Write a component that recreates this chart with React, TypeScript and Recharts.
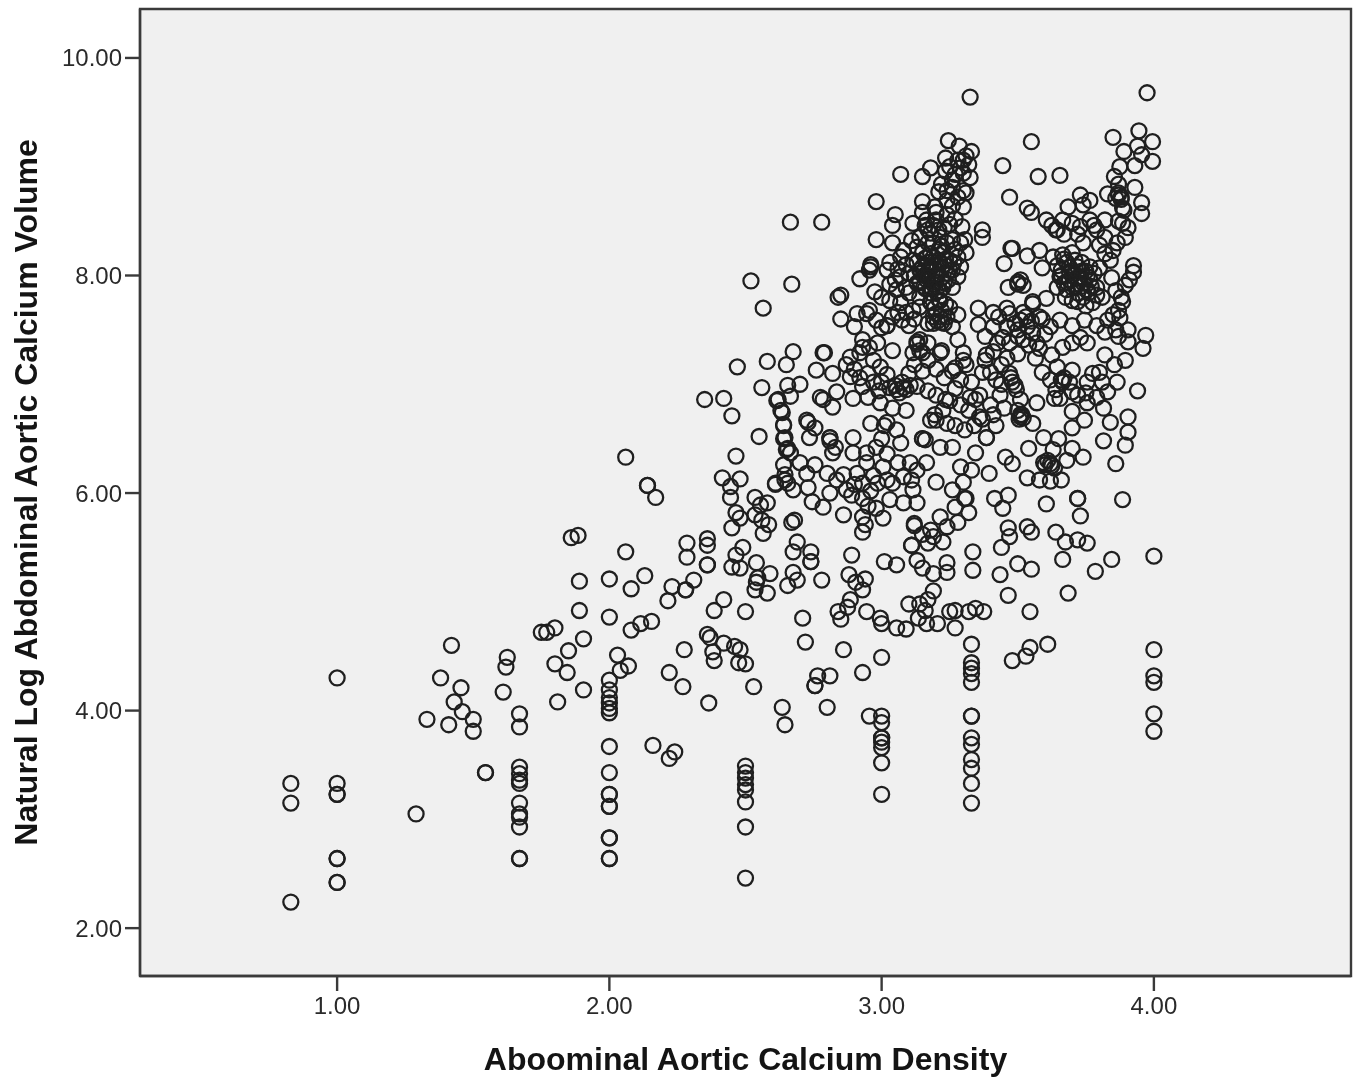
import React from "react";
import { Label, ReferenceArea, Scatter, ScatterChart, XAxis, YAxis } from "recharts";

type Pair = [number, number];

const xTicks = [1, 2, 3, 4];
const yTicks = [2, 4, 6, 8, 10];

// columns of patients sharing one density score
const densityColumns: [number, number[]][] = [
  [0.83, [3.33, 3.15, 2.24]],
  [1, [4.3, 3.33, 3.23, 3.23, 2.64, 2.64, 2.42, 2.42]],
  [1.67, [3.97, 3.85, 3.48, 3.42, 3.36, 3.33, 3.15, 3.05, 3.02, 2.93, 2.64, 2.64]],
  [2, [5.21, 4.86, 4.28, 4.19, 4.12, 4.07, 4.02, 3.98, 3.67, 3.43, 3.23, 3.23, 3.12, 3.12, 2.83, 2.83, 2.64, 2.64]],
  [2.5, [3.49, 3.43, 3.38, 3.32, 3.27, 3.16, 2.93, 2.46]],
  [3, [4.49, 3.95, 3.89, 3.75, 3.75, 3.71, 3.66, 3.52, 3.23]],
  [3.33, [4.61, 4.44, 4.39, 4.34, 4.26, 3.95, 3.95, 3.75, 3.69, 3.55, 3.47, 3.33, 3.15]],
  [4, [5.42, 4.56, 4.32, 4.26, 3.97, 3.81]],
];

const lowBand: Pair[] = [
  [1.29, 3.05], [1.33, 3.92], [1.41, 3.87], [1.38, 4.3], [1.42, 4.6], [1.455, 4.21], [1.43, 4.08], [1.46, 3.99],
  [1.5, 3.92], [1.5, 3.81], [1.545, 3.43], [1.545, 3.43], [1.61, 4.17], [1.62, 4.4], [1.625, 4.49], [1.75, 4.72],
  [1.77, 4.72], [1.8, 4.76], [1.8, 4.43], [1.81, 4.08], [1.845, 4.35], [1.85, 4.55], [1.86, 5.59], [1.885, 5.61],
  [1.89, 5.19], [1.89, 4.92], [1.905, 4.19], [1.905, 4.66], [2.03, 4.51], [2.04, 4.37], [2.07, 4.41], [2.06, 5.46],
  [2.08, 5.12], [2.08, 4.74], [2.06, 6.33], [2.115, 4.8], [2.13, 5.24], [2.155, 4.82], [2.14, 6.07], [2.14, 6.07],
  [2.17, 5.96], [2.16, 3.68], [2.22, 3.56], [2.24, 3.62], [2.215, 5.01], [2.23, 5.14], [2.22, 4.35], [2.27, 4.22],
  [2.275, 4.56], [2.28, 5.11], [2.28, 5.11], [2.31, 5.2], [2.285, 5.54], [2.285, 5.41], [2.35, 6.86], [2.36, 5.58],
  [2.36, 5.52], [2.36, 5.34], [2.36, 5.34], [2.36, 4.7], [2.37, 4.67], [2.365, 4.07], [2.38, 4.54], [2.385, 4.46],
  [2.385, 4.92], [2.42, 4.62], [2.42, 5.02], [2.46, 4.59], [2.48, 4.56], [2.475, 4.44], [2.5, 4.43], [2.53, 4.22],
  [2.5, 4.91],
];

const risingBand: Pair[] = [
  [2.47, 7.16], [2.415, 6.14], [2.42, 6.87], [2.45, 6.71], [2.465, 6.34], [2.48, 6.13], [2.445, 6.06], [2.445, 5.96],
  [2.465, 5.82], [2.48, 5.77], [2.45, 5.68], [2.465, 5.43], [2.45, 5.32], [2.49, 5.5], [2.48, 5.31], [2.52, 7.95],
  [2.565, 7.7], [2.58, 7.21], [2.56, 6.97], [2.55, 6.52], [2.535, 5.96], [2.555, 5.89], [2.58, 5.91], [2.535, 5.8],
  [2.56, 5.75], [2.585, 5.71], [2.565, 5.63], [2.54, 5.36], [2.545, 5.22], [2.59, 5.26], [2.535, 5.11], [2.58, 5.08],
  [2.54, 5.18], [2.635, 4.03], [2.645, 3.87], [2.655, 5.15], [2.69, 5.2], [2.675, 5.27], [2.67, 5.73], [2.68, 5.75],
  [2.69, 5.55], [2.675, 5.46], [2.74, 5.46], [2.74, 5.37], [2.74, 5.37], [2.71, 4.85], [2.72, 4.63], [2.755, 4.23],
  [2.755, 4.23], [2.765, 4.32], [2.81, 4.32], [2.8, 4.03], [2.78, 5.2], [2.665, 8.49], [2.78, 8.49], [2.67, 7.92],
  [2.675, 7.3], [2.65, 7.18], [2.7, 7.0], [2.655, 6.99], [2.62, 6.86], [2.63, 6.76], [2.64, 6.63], [2.645, 6.51],
  [2.65, 6.4], [2.64, 6.26], [2.61, 6.08], [2.645, 6.12], [2.675, 6.03], [2.615, 6.85], [2.665, 6.89], [2.635, 6.74],
  [2.64, 6.62], [2.64, 6.5], [2.655, 6.41], [2.665, 6.37], [2.725, 6.67], [2.755, 6.6], [2.735, 6.51], [2.73, 6.65],
  [2.81, 6.51], [2.81, 6.51], [2.81, 6.48], [2.83, 6.42], [2.82, 6.37], [2.895, 6.51], [2.895, 6.37], [2.945, 6.37],
  [2.76, 7.13], [2.785, 7.29], [2.82, 7.1], [2.775, 6.88], [2.785, 6.86], [2.82, 6.79], [2.835, 6.93], [2.895, 6.87],
  [2.95, 6.88], [2.885, 7.07], [2.7, 6.28], [2.755, 6.26], [2.645, 6.17], [2.61, 6.09], [2.655, 6.09], [2.725, 6.18],
  [2.73, 6.05], [2.8, 6.18], [2.835, 6.12], [2.86, 6.17], [2.91, 6.18], [2.945, 6.28], [3.005, 6.24], [3.02, 6.12],
  [2.985, 6.09], [3.04, 6.09], [2.93, 6.09], [2.89, 5.98], [2.81, 6.0], [2.785, 5.87], [2.745, 5.92], [2.86, 5.8],
  [2.93, 5.95], [2.93, 5.78], [2.93, 5.64], [2.94, 5.71], [3.005, 5.77], [3.03, 5.94], [3.08, 5.91], [3.13, 5.91],
  [3.115, 6.03], [2.96, 6.02], [2.98, 5.86], [2.95, 5.88], [2.97, 6.16], [2.87, 6.03], [2.9, 6.08],
];

const lowerCentre: Pair[] = [
  [2.86, 4.56], [2.93, 4.35], [2.84, 4.91], [2.85, 4.84], [2.89, 5.43], [2.88, 5.25], [2.905, 5.18], [2.94, 5.21],
  [2.93, 5.11], [2.885, 5.02], [2.875, 4.95], [2.945, 4.91], [2.995, 4.85], [3.0, 4.8], [3.01, 5.37], [3.055, 5.34],
  [3.055, 4.76], [3.09, 4.75], [3.1, 4.98], [3.14, 4.98], [3.17, 5.02], [3.135, 4.85], [3.16, 4.92], [3.165, 4.8],
  [3.205, 4.8], [3.19, 5.1], [3.15, 5.31], [3.19, 5.26], [3.24, 5.36], [3.24, 5.27], [3.25, 4.91], [3.27, 4.92],
  [3.27, 4.76], [3.32, 4.91], [3.345, 4.94], [3.375, 4.91], [3.13, 5.38], [3.11, 5.52], [3.11, 5.52], [3.12, 5.7],
  [3.12, 5.72], [3.18, 5.66], [3.24, 5.69], [3.215, 5.78], [3.28, 5.73], [3.17, 5.54], [3.225, 5.55], [3.15, 5.62],
  [3.19, 5.6], [2.955, 3.95], [3.685, 5.08], [3.545, 4.91], [3.465, 5.06], [3.545, 4.58], [3.53, 4.5], [3.48, 4.46],
  [3.61, 4.61], [3.335, 5.46], [3.335, 5.29], [3.5, 5.35], [3.55, 5.3], [3.435, 5.25], [3.665, 5.39], [3.845, 5.39],
  [3.785, 5.28], [3.465, 5.68], [3.535, 5.69], [3.55, 5.64], [3.47, 5.6], [3.64, 5.64], [3.44, 5.5], [3.675, 5.55],
  [3.72, 5.57], [3.755, 5.54], [3.72, 5.95], [3.72, 5.95], [3.73, 5.79], [3.885, 5.94], [3.605, 5.9], [3.465, 5.98],
  [3.415, 5.95], [3.445, 5.86], [3.32, 5.82], [3.305, 5.95],
];

const centreCluster: Pair[] = [
  [2.93, 7.34], [2.97, 7.22], [2.995, 7.16], [3.02, 7.09], [3.03, 6.97], [3.055, 6.95], [3.075, 7.02], [3.09, 6.95],
  [3.105, 6.99], [3.065, 6.92], [3.05, 6.99], [3.08, 6.97], [2.96, 6.64], [3.02, 6.65], [2.995, 6.83], [3.04, 6.78],
  [3.09, 6.76], [3.07, 6.46], [3.105, 6.28], [3.13, 6.21], [3.055, 6.58], [3.2, 6.67], [3.18, 6.67], [3.24, 6.64],
  [3.25, 6.85], [3.225, 6.76], [3.325, 6.88], [3.3, 7.22], [3.215, 7.29], [3.14, 7.31], [3.16, 6.49], [3.195, 6.72],
  [3.235, 6.86], [3.27, 6.62], [3.32, 6.76], [3.345, 6.86], [3.29, 6.81], [3.305, 6.58], [3.36, 6.9], [3.4, 6.81],
  [3.435, 6.9], [3.27, 7.15], [3.31, 7.18], [3.4, 7.11], [3.38, 7.22], [3.165, 6.28], [3.15, 6.5], [3.15, 6.5],
  [3.215, 6.42], [3.26, 6.42], [3.29, 6.24], [3.2, 6.1], [3.26, 6.03], [3.3, 6.1], [3.27, 5.87], [3.31, 5.95],
  [3.01, 6.62], [3.0, 6.5], [2.98, 6.42], [3.02, 6.36], [3.06, 6.28], [3.08, 6.15], [3.11, 6.12], [2.87, 7.18],
  [2.9, 7.14], [2.92, 7.06], [2.95, 7.1], [2.97, 7.02], [2.99, 6.94], [3.0, 7.02], [2.93, 6.98], [3.12, 7.18],
  [3.15, 7.12], [3.17, 7.22], [3.2, 7.14], [3.23, 7.06], [3.26, 7.12], [3.29, 7.04], [3.33, 7.02], [3.1, 7.1],
  [3.13, 6.98], [3.17, 6.94], [3.2, 6.9], [3.27, 6.96], [3.36, 6.7], [3.34, 6.62], [3.345, 6.37], [3.385, 6.51],
  [3.385, 6.51], [3.33, 6.21], [3.395, 6.18], [3.37, 6.68], [3.41, 6.72],
];

const upperLeftCluster: Pair[] = [
  [3.325, 9.64], [3.245, 9.24], [3.285, 9.19], [3.33, 9.14], [3.235, 9.08], [3.3, 9.06], [3.32, 9.02], [3.18, 8.99],
  [3.15, 8.91], [3.07, 8.93], [3.235, 8.96], [3.29, 8.99], [3.325, 8.9], [3.26, 8.88], [3.21, 8.77], [3.26, 8.81],
  [3.31, 8.76], [2.98, 8.68], [3.15, 8.68], [3.195, 8.63], [3.24, 8.69], [3.3, 8.63], [3.05, 8.56], [3.04, 8.46],
  [3.15, 8.58], [3.115, 8.48], [3.165, 8.51], [3.2, 8.51], [3.24, 8.56], [3.295, 8.45], [3.37, 8.42], [3.37, 8.35],
  [2.98, 8.33], [3.04, 8.3], [3.08, 8.23], [3.14, 8.35], [3.18, 8.39], [3.215, 8.35], [3.26, 8.33], [3.305, 8.33],
  [3.31, 8.21], [2.96, 8.1], [2.96, 8.08], [2.955, 8.05], [2.92, 7.97], [3.03, 8.12], [3.02, 8.05], [3.07, 8.17],
  [3.115, 8.14], [3.15, 8.21], [3.19, 8.17], [3.225, 8.21], [3.28, 8.17], [3.07, 7.99], [3.1, 8.02], [3.14, 8.05],
  [3.18, 8.08], [3.215, 8.11], [3.25, 8.14], [3.29, 8.08], [3.2, 7.99], [3.24, 8.02], [3.28, 7.99], [3.165, 7.96],
  [3.13, 7.93], [3.09, 7.89], [3.055, 7.87], [2.975, 7.85], [3.0, 7.8], [2.85, 7.82], [2.84, 7.8], [3.225, 7.89],
  [3.26, 7.89], [3.18, 7.84], [3.14, 7.8], [3.03, 7.77], [3.07, 7.75], [3.14, 7.71], [3.18, 7.75], [3.215, 7.77],
  [3.25, 7.71], [3.28, 7.64], [3.2, 7.65], [3.24, 7.62], [3.19, 7.56], [3.22, 7.57], [3.26, 7.53], [3.28, 7.41],
  [3.17, 7.56], [2.85, 7.6], [2.945, 7.65], [2.955, 7.68], [2.91, 7.65], [2.9, 7.53], [2.98, 7.59], [3.02, 7.54],
  [3.02, 7.54], [3.0, 7.52], [3.075, 7.59], [3.115, 7.68], [3.1, 7.54], [3.355, 7.7], [3.355, 7.55], [3.41, 7.66],
  [3.41, 7.53], [2.93, 7.41], [2.955, 7.34], [2.985, 7.38], [2.79, 7.29], [2.885, 7.25], [2.92, 7.29], [3.04, 7.31],
  [3.13, 7.39], [3.13, 7.37], [3.14, 7.41], [3.17, 7.38], [3.15, 7.29], [3.115, 7.29], [3.22, 7.31], [3.3, 7.29],
  [3.385, 7.27], [3.425, 7.38], [3.48, 8.25], [3.16, 8.0], [3.19, 7.92], [3.22, 7.98], [3.17, 8.12], [3.2, 8.05],
  [3.23, 8.1], [3.16, 7.88], [3.2, 7.85], [3.12, 8.0], [3.1, 7.84], [3.21, 8.14], [3.17, 8.3], [3.22, 8.27],
  [3.26, 8.05], [3.15, 8.08], [3.18, 8.2],
];

// the two near-black knots of overlapping rings
const leftKnot: Pair[] = [
  [3.13, 8.12], [3.145, 8.02], [3.16, 8.16], [3.175, 8.04], [3.19, 8.1], [3.205, 8.0], [3.22, 8.06], [3.235, 8.15],
  [3.25, 8.05], [3.265, 8.12], [3.14, 7.95], [3.155, 7.9], [3.17, 7.98], [3.185, 7.88], [3.2, 7.94], [3.215, 7.86],
  [3.23, 7.93], [3.245, 7.96], [3.18, 7.76], [3.195, 7.7], [3.21, 7.78], [3.22, 7.68], [3.235, 7.74], [3.19, 7.62],
  [3.205, 7.58], [3.215, 7.62], [3.23, 7.56], [3.17, 8.42], [3.19, 8.46], [3.21, 8.42], [3.23, 8.44], [3.25, 8.47],
  [3.27, 8.52], [3.19, 8.3], [3.21, 8.24], [3.24, 8.3], [3.27, 8.24], [3.29, 8.3], [3.2, 8.58], [3.26, 8.64],
  [3.28, 8.72], [3.3, 8.78], [3.27, 8.93], [3.3, 8.94], [3.25, 9.0], [3.28, 9.06], [3.31, 9.1], [3.22, 8.84],
  [3.24, 8.78], [3.16, 8.46], [3.13, 8.26], [3.11, 8.32], [3.09, 8.1], [3.06, 8.06], [3.05, 7.96], [3.03, 7.92],
  [3.12, 7.6], [3.09, 7.66], [3.06, 7.66], [3.04, 7.62],
];

const upperRightCluster: Pair[] = [
  [3.975, 9.68], [3.55, 9.23], [3.85, 9.27], [3.945, 9.33], [3.995, 9.23], [3.94, 9.19], [3.89, 9.14], [3.995, 9.05],
  [3.955, 9.11], [3.93, 9.01], [3.875, 9.0], [3.855, 8.91], [3.575, 8.91], [3.655, 8.92], [3.445, 9.01], [3.47, 8.72],
  [3.535, 8.62], [3.55, 8.58], [3.83, 8.75], [3.87, 8.76], [3.87, 8.74], [3.88, 8.72], [3.86, 8.71], [3.93, 8.81],
  [3.885, 8.62], [3.955, 8.67], [3.955, 8.57], [3.73, 8.74], [3.765, 8.69], [3.685, 8.63], [3.74, 8.65], [3.82, 8.51],
  [3.605, 8.51], [3.625, 8.46], [3.645, 8.42], [3.665, 8.51], [3.7, 8.48], [3.73, 8.45], [3.765, 8.51], [3.79, 8.42],
  [3.905, 8.44], [3.885, 8.48], [3.82, 8.35], [3.895, 8.35], [3.865, 8.3], [3.475, 8.25], [3.535, 8.18], [3.58, 8.23],
  [3.45, 8.11], [3.74, 8.3], [3.85, 8.23], [3.84, 8.14], [3.63, 8.17], [3.665, 8.19], [3.7, 8.21], [3.59, 8.07],
  [3.645, 8.09], [3.68, 8.12], [3.735, 8.12], [3.765, 8.08], [3.8, 8.07], [3.925, 8.09], [3.925, 8.03], [3.845, 7.98],
  [3.91, 7.96], [3.5, 7.94], [3.5, 7.92], [3.51, 7.96], [3.465, 7.89], [3.52, 7.91], [3.655, 7.99], [3.69, 7.96],
  [3.73, 7.99], [3.765, 7.96], [3.645, 7.89], [3.68, 7.87], [3.72, 7.84], [3.755, 7.87], [3.79, 7.89], [3.895, 7.91],
  [3.675, 7.8], [3.7, 7.77], [3.74, 7.8], [3.775, 7.75], [3.81, 7.8], [3.885, 7.76], [3.87, 7.68], [3.85, 7.64],
  [3.875, 7.61], [3.83, 7.59], [3.79, 7.54], [3.745, 7.59], [3.7, 7.54], [3.655, 7.59], [3.62, 7.53], [3.555, 7.76],
  [3.555, 7.74], [3.605, 7.79], [3.905, 7.5], [3.97, 7.45], [3.905, 7.39], [3.96, 7.33], [3.82, 7.27], [3.755, 7.38],
  [3.73, 7.43], [3.7, 7.38], [3.665, 7.34], [3.625, 7.27], [3.58, 7.33], [3.7, 8.0], [3.72, 8.08], [3.75, 8.04],
  [3.69, 8.03], [3.71, 7.92], [3.74, 7.93], [3.66, 8.05], [3.77, 7.9],
];

const rightKnot: Pair[] = [
  [3.67, 8.15], [3.69, 8.08], [3.71, 8.14], [3.66, 8.0], [3.68, 7.94], [3.7, 8.04], [3.72, 7.98], [3.735, 8.04],
  [3.755, 7.99], [3.78, 8.02], [3.67, 7.93], [3.7, 7.89], [3.735, 7.9], [3.76, 7.84], [3.79, 7.82], [3.72, 7.76],
  [3.75, 7.72], [3.64, 8.42], [3.67, 8.38], [3.72, 8.38], [3.78, 8.46], [3.8, 8.28], [3.82, 8.2], [3.87, 8.5],
  [3.89, 8.6], [3.87, 8.84], [3.88, 8.7], [3.86, 7.86], [3.88, 7.8], [3.86, 7.5], [3.87, 7.44], [3.82, 7.48],
];

const lowerRightCluster: Pair[] = [
  [3.47, 7.65], [3.51, 7.59], [3.46, 7.53], [3.5, 7.5], [3.535, 7.53], [3.555, 7.47], [3.52, 7.41], [3.47, 7.38],
  [3.57, 7.38], [3.445, 7.43], [3.49, 7.56], [3.53, 7.62], [3.895, 7.22], [3.855, 7.18], [3.94, 6.94], [3.865, 7.02],
  [3.565, 7.24], [3.37, 7.11], [3.44, 7.18], [3.59, 7.11], [3.645, 7.16], [3.7, 7.13], [3.775, 7.1], [3.8, 7.11],
  [3.47, 7.1], [3.475, 7.06], [3.48, 7.02], [3.49, 6.99], [3.495, 6.95], [3.51, 6.86], [3.51, 6.72], [3.51, 6.7],
  [3.515, 6.72], [3.505, 6.68], [3.5, 6.76], [3.52, 6.69], [3.555, 6.64], [3.62, 7.04], [3.66, 7.04], [3.665, 7.02],
  [3.67, 7.06], [3.69, 7.02], [3.755, 7.02], [3.81, 7.02], [3.83, 6.93], [3.755, 6.83], [3.815, 6.78], [3.635, 6.87],
  [3.655, 6.87], [3.7, 6.75], [3.745, 6.67], [3.7, 6.6], [3.84, 6.65], [3.905, 6.7], [3.905, 6.56], [3.895, 6.44],
  [3.815, 6.48], [3.595, 6.51], [3.65, 6.5], [3.54, 6.41], [3.7, 6.41], [3.63, 6.4], [3.74, 6.33], [3.86, 6.27],
  [3.68, 6.3], [3.595, 6.28], [3.6, 6.26], [3.61, 6.3], [3.62, 6.27], [3.625, 6.25], [3.635, 6.23], [3.535, 6.14],
  [3.58, 6.12], [3.62, 6.11], [3.66, 6.12], [3.455, 6.33], [3.48, 6.27], [3.44, 7.0], [3.42, 7.04], [3.52, 7.66],
  [3.55, 7.58], [3.58, 7.62], [3.6, 7.46], [3.5, 7.44], [3.46, 7.7], [3.43, 7.62], [3.59, 7.6], [3.54, 7.36],
  [3.41, 7.3], [3.46, 7.24], [3.5, 7.28], [3.38, 7.44], [3.64, 6.95], [3.7, 6.93], [3.75, 6.92], [3.79, 6.88],
  [3.42, 6.62], [3.45, 6.78], [3.57, 6.83], [3.72, 6.9],
];

const densityValues: Pair[] = densityColumns.flatMap(([x, ys]) => ys.map((y): Pair => [x, y]));

const points = [
  ...densityValues,
  ...lowBand,
  ...risingBand,
  ...lowerCentre,
  ...centreCluster,
  ...upperLeftCluster,
  ...leftKnot,
  ...upperRightCluster,
  ...rightKnot,
  ...lowerRightCluster,
].map(([x, y]) => ({ x, y }));

const Ring = (props: any) => (
  <circle cx={props.cx} cy={props.cy} r={7.5} fill="none" stroke="#1f1f1f" strokeWidth={2.3} />
);

const axisLine = { stroke: "#3a3a3a", strokeWidth: 2.4 };
const tickStyle = { fontFamily: "Liberation Sans", fontSize: 24, fill: "#2a2a2a" };
const titleStyle = { fontFamily: "Liberation Sans", fontSize: 32, fontWeight: 700, fill: "#141414" };

export default function App() {
  return (
    <div style={{ position: "absolute", left: 0, top: 0, filter: "blur(0.5px)" }}>
      <ScatterChart width={1362} height={1083} margin={{ top: 9, right: 11, bottom: 0, left: 0 }}>
        <XAxis
          type="number"
          dataKey="x"
          domain={[0.276, 4.724]}
          ticks={xTicks}
          interval={0}
          height={107}
          allowDataOverflow
          tickSize={15}
          tickMargin={6}
          tick={tickStyle}
          axisLine={axisLine}
          tickLine={axisLine}
          tickFormatter={(v: number) => v.toFixed(2)}
        >
          <Label value="Aboominal Aortic Calcium Density" position="insideBottom" offset={13} style={titleStyle} />
        </XAxis>
        <YAxis
          type="number"
          dataKey="y"
          domain={[1.56, 10.45]}
          ticks={yTicks}
          interval={0}
          width={140}
          allowDataOverflow
          tickSize={15}
          tickMargin={3}
          tick={tickStyle}
          axisLine={axisLine}
          tickLine={axisLine}
          tickFormatter={(v: number) => v.toFixed(2)}
        >
          <Label
            value="Natural Log Abdominal Aortic Calcium Volume"
            angle={-90}
            position="insideLeft"
            offset={26}
            style={{ ...titleStyle, textAnchor: "middle" }}
          />
        </YAxis>
        <ReferenceArea
          x1={0.276}
          x2={4.724}
          y1={1.56}
          y2={10.45}
          fill="#f0f0f0"
          fillOpacity={1}
          stroke="#3a3a3a"
          strokeWidth={2.4}
        />
        <Scatter data={points} shape={Ring} isAnimationActive={false} />
      </ScatterChart>
    </div>
  );
}
